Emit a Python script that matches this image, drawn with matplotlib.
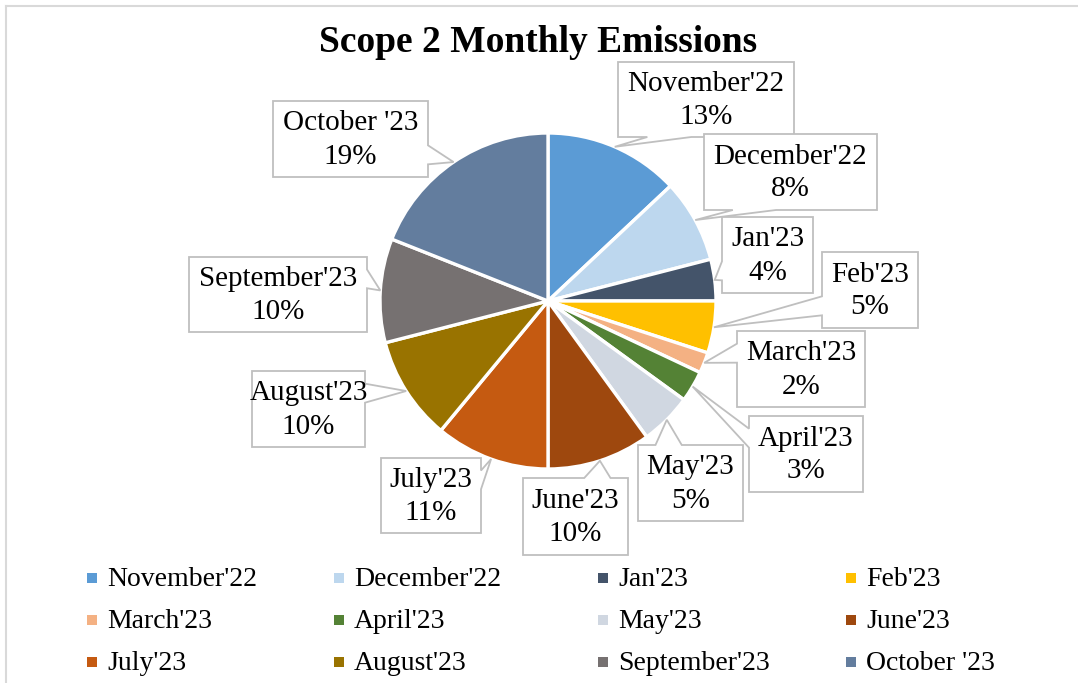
import numpy as np
import matplotlib.pyplot as plt
from matplotlib.patches import Polygon, Rectangle

plt.rcParams['font.family'] = ['Liberation Serif', 'DejaVu Serif']

# data
months = ["November'22", "December'22", "Jan'23", "Feb'23",
          "March'23", "April'23", "May'23", "June'23",
          "July'23", "August'23", "September'23", "October '23"]
shares = [13, 8, 4, 5, 2, 3, 5, 10, 11, 10, 10, 19]
colors = ["#5B9BD5", "#BDD7EE", "#44546A", "#FFC000",
          "#F4B183", "#548235", "#D0D7E1", "#9E480E",
          "#C55A11", "#997300", "#767171", "#637D9E"]

# label boxes in pixels: left, top, right, bottom (y from the top)
boxes = [(618, 62, 794, 137), (704, 134, 877, 210), (722, 217, 813, 293),
         (822, 252, 918, 328), (737, 331, 865, 407), (749, 416, 863, 492),
         (638, 445, 743, 521), (523, 478, 628, 555), (381, 458, 481, 533),
         (252, 371, 365, 447), (189, 257, 367, 332), (273, 101, 428, 177)]

W, H = 1078, 683
cx, cy, rad = 548, 301, 168


def callout(ax, box, tip, text):
    # excel style wedge callout, worked out in pixel coords (y down)
    l, t, r, b = box
    w = r - l
    h = b - t
    dx = tip[0] - (l + r) / 2
    dy = tip[1] - (t + b) / 2
    pts = [(l, t)]
    if abs(dy) > abs(dx * h / w):
        g = (7, 10) if dx > 0 else (2, 5)
        x1 = l + w * g[0] / 12
        x2 = l + w * g[1] / 12
        if dy < 0:
            pts += [(x1, t), tip, (x2, t), (r, t), (r, b), (l, b)]
        else:
            pts += [(r, t), (r, b), (x2, b), tip, (x1, b), (l, b)]
    else:
        g = (7, 10) if dy > 0 else (2, 5)
        y1 = t + h * g[0] / 12
        y2 = t + h * g[1] / 12
        if dx > 0:
            pts += [(r, t), (r, y1), tip, (r, y2), (r, b), (l, b)]
        else:
            pts += [(r, t), (r, b), (l, b), (l, y2), tip, (l, y1)]
    pts = [(p[0], H - p[1]) for p in pts]
    ax.add_patch(Polygon(pts, closed=True, facecolor="white",
                         edgecolor="#BFBFBF", linewidth=1.3, zorder=3))
    ax.text((l + r) / 2, H - (t + b) / 2 - 1, text, ha="center", va="center",
            fontsize=21, linespacing=1.35, zorder=4)


fig = plt.figure(figsize=(W / 100, H / 100), dpi=100)
ax = fig.add_axes([0, 0, 1, 1])

wedges, _ = ax.pie(shares, colors=colors, startangle=90, counterclock=False,
                   center=(cx, H - cy), radius=rad, frame=True,
                   wedgeprops=dict(edgecolor="white", linewidth=2.4))

for i in range(len(months)):
    wdg = wedges[i]
    mid = np.deg2rad((wdg.theta1 + wdg.theta2) / 2)
    tip = (cx + rad * np.cos(mid), cy - rad * np.sin(mid))
    callout(ax, boxes[i], tip, months[i] + "\n" + str(shares[i]) + "%")

ax.text(538, H - 43, "Scope 2 Monthly Emissions", ha="center", va="center",
        fontsize=27, fontweight="bold")

# legend, 4 per row like the excel one
col_x = [92, 339, 603, 851]
row_y = [578, 620, 662]
for i in range(len(months)):
    r, c = divmod(i, 4)
    ax.add_patch(Rectangle((col_x[c] - 5, H - row_y[r] - 5), 10, 10,
                           facecolor=colors[i], edgecolor="none"))
    ax.text(col_x[c] + 15, H - row_y[r] - 2, months[i], ha="left",
            va="center", fontsize=20)

# chart area border (top and left only show)
ax.plot([6, W], [H - 6, H - 6], color="#D9D9D9", linewidth=1.5)
ax.plot([6, 6], [H - 6, 0], color="#D9D9D9", linewidth=1.5)

ax.set_xlim(0, W)
ax.set_ylim(0, H)
ax.set_aspect("auto")
ax.axis("off")

plt.savefig("out.png", dpi=100)
plt.close()
